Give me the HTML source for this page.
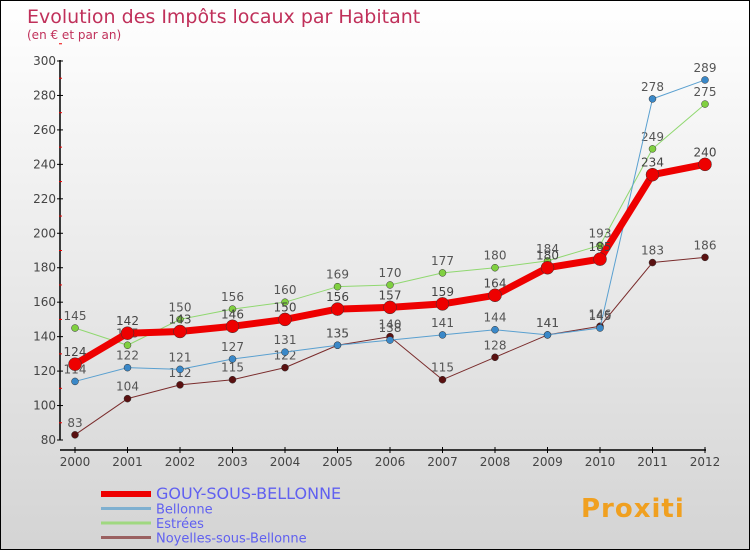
<!DOCTYPE html>
<html><head><meta charset="utf-8"><style>
body{margin:0}
#c{position:relative;width:748px;height:548px;border:1px solid #000;background:linear-gradient(#fff,#d4d4d4);font-family:"DejaVu Sans","Liberation Sans",sans-serif;overflow:hidden}
</style></head><body>
<div id="c">
<svg id="s" width="748" height="548" xmlns="http://www.w3.org/2000/svg"></svg>
</div>
<script>
const years=[2000,2001,2002,2003,2004,2005,2006,2007,2008,2009,2010,2011,2012];
const gouy=[124,142,143,146,150,156,157,159,164,180,185,234,240];
const bellonne=[114,122,121,127,131,135,138,141,144,141,145,278,289];
const estrees=[145,135,150,156,160,169,170,177,180,184,193,249,275];
const noyelles=[83,104,112,115,122,135,140,115,128,141,146,183,186];
const yTicks=[80,100,120,140,160,180,200,220,240,260,280,300];
const s=document.getElementById('s');const NS='http://www.w3.org/2000/svg';
function X(i){return 74+i*52.5}
function Y(v){return 439-(v-80)*(379/220)}
function el(t,a,p){const e=document.createElementNS(NS,t);for(const k in a)e.setAttribute(k,a[k]);(p||s).appendChild(e);return e}
function tx(str,a,name){const e=el('text',a);e.textContent=str;return e}
tx('Evolution des Impôts locaux par Habitant',{x:26,y:22,'font-size':19,fill:'#c0305a'},'chart-title');
tx('(en € et par an)',{x:26,y:38,'font-size':12,fill:'#c0305a'},'chart-subtitle');
let ax=el('path',{d:'M59,59V439M59,449H705',stroke:'#000','stroke-width':1.5,fill:'none'});

yTicks.forEach(v=>{el('line',{x1:56,x2:62,y1:Y(v),y2:Y(v),stroke:'#000'});
 el('line',{x1:58,x2:61,y1:Y(v+10),y2:Y(v+10),stroke:'#e00'});
 tx(String(v),{x:55,y:Y(v)+4,'font-size':12,'text-anchor':'end',fill:'#444'},'y-tick-label');});
years.forEach((y,i)=>{el('line',{x1:X(i),x2:X(i),y1:446,y2:452,stroke:'#000'});
 tx(String(y),{x:X(i),y:465,'font-size':12,'text-anchor':'middle',fill:'#444'},'x-tick-label');});
function series(d,col,w,r,dot,name,lab){
 const g=el('g',{});
 el('polyline',{points:d.map((v,i)=>X(i)+','+Y(v)).join(' '),fill:'none',stroke:col,'stroke-width':w,'stroke-linejoin':'round'},g);
 d.forEach((v,i)=>{const c=el('circle',{cx:X(i),cy:Y(v),r:r,fill:dot,stroke:'#333','stroke-width':0.5},g);
  const t=el('text',{x:X(i),y:Y(v)-8,'font-size':12,'text-anchor':'middle',fill:lab},g);t.textContent=v;});
}
series(noyelles,'#7a2c2c',1,3.5,'#5a1010','series-noyelles','#555');
series(estrees,'#90d870',1,3.5,'#80d040','series-estrees','#555');
series(bellonne,'#5aa0d0',1,3.5,'#3a88c8','series-bellonne','#555');
series(gouy,'#ee0000',7,6.5,'#ee0000','series-gouy','#444');
const leg=[['GOUY-SOUS-BELLONNE','#ee0000',6,16],['Bellonne','#7fb0d0',3,13],['Estrées','#a0d880',3,13],['Noyelles-sous-Bellonne','#9a6060',3,13]];
leg.forEach((l,i)=>{const y=493+i*14.5;const g=el('g',{});
 el('line',{x1:100,x2:150,y1:y,y2:y,stroke:l[1],'stroke-width':l[2]},g);
 const t=el('text',{x:155,y:y+5,'font-size':l[3],fill:'#6060f0'},g);t.textContent=l[0];});
const lg=tx('Proxiti',{x:580,y:516,'font-size':26,'font-weight':'bold',fill:'#f0a020','letter-spacing':1},'logo');
</script>
</body></html>
